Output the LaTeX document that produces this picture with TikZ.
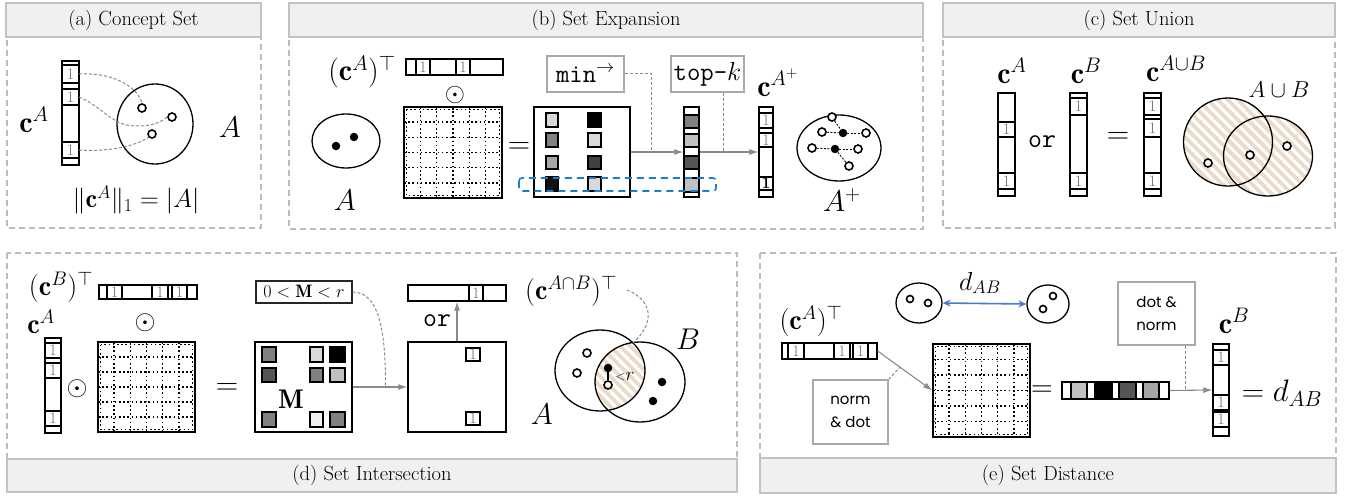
\RequirePackage{fix-cm}
\documentclass[tikz,border=0pt]{standalone}
\usepackage{amsmath,amssymb}
\usepackage{fontspec}
\newfontfamily\gothic{Poppins}
\usetikzlibrary{arrows.meta,calc,shapes.geometric,fit}
\definecolor{tbfill}{HTML}{F0F0F0}
\definecolor{tbdraw}{HTML}{C2C2C2}
\definecolor{pdash}{HTML}{BDBDBD}
\definecolor{stripe}{HTML}{EBDACA}
\definecolor{onegrey}{HTML}{6E6E6E}
\definecolor{arrgrey}{HTML}{8A8A8A}
\definecolor{boxgrey}{HTML}{A8A8A8}
\definecolor{blueA}{HTML}{1F7BD0}
\definecolor{blueB}{HTML}{4A7CC8}
\definecolor{gA}{HTML}{D9D9D9}
\definecolor{gB}{HTML}{808080}
\definecolor{gC}{HTML}{A6A6A6}
\definecolor{gD}{HTML}{111111}
\definecolor{gE}{HTML}{404040}
\definecolor{gF}{HTML}{C0C0C0}
\definecolor{gG}{HTML}{555555}
\definecolor{gH}{HTML}{F2F2F2}
\newcommand\vcell[4]{\draw[cellbx] (#1,#2) rectangle (#3,#4); \node[onetx] at ($(#1,#2)!0.5!(#3,#4)$) {1};}
\newcommand\dgridm[4]{%
  \foreach \i in {1,...,5}{%
    \draw[dgrid] ($(#1,#2)!\i/6!(#3,#2)$) -- ($(#1,#4)!\i/6!(#3,#4)$);
    \draw[dgrid] ($(#1,#2)!\i/6!(#1,#4)$) -- ($(#3,#2)!\i/6!(#3,#4)$);}
  \draw[dgrid] ({#1+2.5},{#2+2.5}) rectangle ({#3-2.5},{#4-2.5});}
\newcommand\myhatch[2]{\foreach \k in {-16,...,16}{\draw[stripe, line width=3.6] ({#1+\k*10-80},{#2-80}) -- ++(160,160);}}
\begin{document}
\begin{tikzpicture}[x=1pt,y=-1pt,
  pnl/.style={draw=pdash, line width=1.3, dash pattern=on 6pt off 4pt},
  ttlbox/.style={draw=tbdraw, fill=tbfill, line width=1.6, inner sep=0, font=\fontsize{20.5}{23}\selectfont},
  lbl/.style={inner sep=0, font=\fontsize{30}{34}\selectfont},
  lbs/.style={inner sep=0, font=\fontsize{28}{32}\selectfont},
  vecbx/.style={draw, line width=1.3, inner sep=0},
  cellbx/.style={draw, line width=1.3},
  onetx/.style={inner sep=0, text=onegrey, font=\fontsize{16}{16}\selectfont},
  matbx/.style={draw, line width=1.4, inner sep=0},
  dgrid/.style={line width=1.6, dash pattern=on 1.6pt off 2.6pt},
  gsq/.style={draw, line width=1.2},
  garr/.style={draw=arrgrey, line width=1.1, -{Latex[length=9pt,width=6pt]}},
  gdsh/.style={draw=arrgrey, line width=1, dash pattern=on 3pt off 2pt},
  opbx/.style={draw=boxgrey, line width=1.2, inner sep=0},
  odt/.style={circle, draw, line width=1.6, fill=white, inner sep=0, minimum size=8},
  fdt/.style={circle, fill, inner sep=0, minimum size=8.5},
  setl/.style={ellipse, draw, line width=1.3, inner sep=0},
  ttx/.style={inner sep=0, font=\fontsize{27}{29}\selectfont\ttfamily},
  edsh/.style={line width=0.9, dash pattern=on 2pt off 1.5pt},
  sanstx/.style={inner sep=0, align=left, font=\fontsize{15}{23}\selectfont\gothic}
]
\useasboundingbox (0,0) rectangle (1347,500);
\fill[white] (0,0) rectangle (1347,500);

%%%%%%%%%%%%%%%% (a)
\draw[pnl] (7,30) rectangle (261,228);
\node[ttlbox, minimum width=255, minimum height=34] (ta) at (133.5,20) {(a) Concept Set};
\node[vecbx, fit={(62,61) (79,165)}] (vA) {};
\vcell{62}{65}{79}{83}
\vcell{62}{89}{79}{105}
\vcell{62}{142}{79}{158}
\node[setl, minimum width=76, minimum height=80] (sA) at (155,124) {};
\node[odt] (a1) at (142,108) {};
\node[odt] (a2) at (172,117) {};
\node[odt] (a3) at (152,134) {};
\coordinate (a1s) at (79,74);
\coordinate (a2s) at (79,97);
\coordinate (a3s) at (79,150);
\draw[gdsh] (a1s) .. controls (115,72) and (138,88) .. (a1.north);
\draw[gdsh] (a2s) .. controls (105,108) and (112,127) .. (138,126) .. controls (155,126) and (162,121) .. (a2.west);
\draw[gdsh] (a3s) .. controls (110,152) and (135,146) .. (a3.south west);
\node[lbl] (lcA) at (34,120) {$\mathbf{c}^{A}$};
\node[lbl] (lA) at (230,127) {$A$};
\node[lbl, font=\fontsize{26}{30}\selectfont] (eqa) at (136,200) {$\|\mathbf{c}^A\|_1=|A|$};

%%%%%%%%%%%%%%%% (b)
\draw[pnl] (289,30) rectangle (923,229);
\node[ttlbox, minimum width=634, minimum height=34] (tb) at (606,20) {(b) Set Expansion};
\node[lbl] (lbT) at (362,72) {$(\mathbf{c}^{A})^{\top}$};
\node[vecbx, fit={(406,59) (503,75)}] (rbv) {};
\vcell{416}{59}{430}{75}
\vcell{456}{59}{470}{75}
\node[lbl, font=\fontsize{26}{28}\selectfont] (bo) at (455,95) {$\odot$};
\dgridm{404}{107}{502}{198}
\node[matbx, fit={(404,107) (502,198)}] (bm) {};
\node[setl, minimum width=68, minimum height=54] (sbA) at (346,141) {};
\node[fdt] (b1) at (336,146) {};
\node[fdt] (b2) at (354,137) {};
\node[lbl] (lbA) at (345,200) {$A$};
\node[lbl, font=\fontsize{31}{34}\selectfont] (beq) at (519,148) {$=$};
\node[matbx, fit={(534,107) (630,197)}] (rm) {};
\filldraw[gsq, fill=gA] (546,113) rectangle (558,127);
\filldraw[gsq, fill=gB] (546,133) rectangle (558,147);
\filldraw[gsq, fill=gC] (546,156) rectangle (558,169);
\filldraw[gsq, fill=gD] (546,177) rectangle (558,191);
\filldraw[gsq, fill=black] (588,113) rectangle (601,127);
\filldraw[gsq, fill=gA] (588,133) rectangle (601,147);
\filldraw[gsq, fill=gE] (588,156) rectangle (601,169);
\filldraw[gsq, fill=gA] (588,177) rectangle (601,191);
\node[opbx, minimum width=77, minimum height=36, font=\fontsize{26}{28}\selectfont] (minb) at (585.5,74) {\texttt{min}$^{\rightarrow}$};
\node[opbx, minimum width=73, minimum height=36, font=\fontsize{26}{28}\selectfont] (topk) at (707.5,74) {\texttt{top-}$k$};
\node[vecbx, fit={(684,107) (699,197)}] (cv) {};
\filldraw[gsq, fill=gB] (684,115) rectangle (699,128);
\filldraw[gsq, fill=gF] (684,134) rectangle (699,147);
\filldraw[gsq, fill=gG] (684,156) rectangle (699,169);
\filldraw[gsq, fill=gF] (684,178) rectangle (699,192);
\node[vecbx, fit={(759,107) (773,197)}] (vap) {};
\vcell{759}{113}{773}{128}
\vcell{759}{133}{773}{147}
\draw[cellbx, line width=1.7] (759,177) rectangle (773,190);
\node[inner sep=0, font=\fontsize{16}{16}\selectfont\bfseries] at (766,183.5) {1};
\node[lbl] (lcAp) at (778,83) {$\mathbf{c}^{A^{+}}$};
\coordinate (mk) at ($(rm.east)!0.4!(cv.west)$);
\coordinate (tk) at ($(cv.east)!0.4!(vap.west)$);
\draw[garr] (rm.east) -- (cv.west);
\draw[garr] (cv.east) -- (vap.west);
\draw[gdsh] (minb.east) -| (mk);
\draw[gdsh] (tk |- topk.south) -- (tk);
\node[setl, minimum width=84, minimum height=66] (sAp) at (839,148) {};
\node[fdt] (p1) at (843,133) {};
\node[fdt] (p2) at (835,149) {};
\node[odt] (q1) at (832,117) {};
\node[odt] (q2) at (822,132) {};
\node[odt] (q3) at (866,133) {};
\node[odt] (q4) at (812,148) {};
\node[odt] (q5) at (858,149) {};
\node[odt] (q6) at (849,166) {};
\draw[edsh] (q1) -- (p1); \draw[edsh] (q2) -- (p1); \draw[edsh] (p1) -- (q3);
\draw[edsh] (q4) -- (p2); \draw[edsh] (p2) -- (q5); \draw[edsh] (p2) -- (q6);
\node[lbl] (lAp) at (842,200) {$A^{+}$};
\draw[draw=blueA, line width=1.6, dash pattern=on 7pt off 5pt, rounded corners=3] (519,178) rectangle (716,191);

%%%%%%%%%%%%%%%% (c)
\draw[pnl] (943,30) rectangle (1335,228);
\node[ttlbox, minimum width=392, minimum height=34] (tc) at (1139,20) {(c) Set Union};
\node[vecbx, fit={(998,93) (1015,196)}] (cvA) {};
\vcell{998}{122}{1015}{137}
\vcell{998}{173}{1015}{189}
\node[vecbx, fit={(1070,93) (1087,196)}] (cvB) {};
\vcell{1070}{98}{1087}{115}
\vcell{1070}{173}{1087}{189}
\node[vecbx, fit={(1144,93) (1161,196)}] (cvU) {};
\vcell{1144}{98}{1161}{115}
\vcell{1144}{119}{1161}{137}
\vcell{1144}{173}{1161}{189}
\node[lbl] (lcA2) at (1012,71) {$\mathbf{c}^{A}$};
\node[lbl] (lcB2) at (1086,71) {$\mathbf{c}^{B}$};
\node[lbl] (lcU) at (1176,69) {$\mathbf{c}^{A\cup B}$};
\node[ttx] (cor) at (1042,142) {or};
\node[lbl, font=\fontsize{31}{34}\selectfont] (ceq) at (1118,138) {$=$};
\begin{scope}\clip (1228,142) ellipse [x radius=44.5pt, y radius=44pt]; \myhatch{1248}{150}\end{scope}
\begin{scope}\clip (1268,156) ellipse [x radius=44.5pt, y radius=40pt]; \myhatch{1248}{150}\end{scope}
\node[setl, minimum width=89, minimum height=88] (cA) at (1228,142) {};
\node[setl, minimum width=89, minimum height=80] (cB) at (1268,156) {};
\node[odt] (c1) at (1208,163) {};
\node[odt] (c2) at (1250,155) {};
\node[odt] (c3) at (1287,146) {};
\node[lbl, font=\fontsize{23}{26}\selectfont] (lU) at (1279,90) {$A\cup B$};

%%%%%%%%%%%%%%%% (d)
\draw[pnl] (7,253) rectangle (737,470);
\node[ttlbox, minimum width=730, minimum height=33] (td) at (372,475.5) {(d) Set Intersection};
\node[lbs] (ldT) at (61,287) {$(\mathbf{c}^{B})^{\top}$};
\node[vecbx, fit={(99,285) (197,299)}] (drb) {};
\vcell{107}{285}{122}{299}
\vcell{152}{285}{168}{299}
\vcell{172}{285}{187}{299}
\node[lbs] (ldA) at (41,322) {$\mathbf{c}^{A}$};
\node[vecbx, fit={(45,338) (61,433)}] (dca) {};
\vcell{45}{343}{61}{358}
\vcell{45}{363}{61}{378}
\vcell{45}{411}{61}{426}
\node[lbl, font=\fontsize{27}{30}\selectfont] (do1) at (77,389) {$\odot$};
\node[lbl, font=\fontsize{27}{30}\selectfont] (do2) at (145,323) {$\odot$};
\dgridm{98}{342}{195}{432}
\node[matbx, fit={(98,342) (195,432)}] (dm) {};
\node[lbl, font=\fontsize{31}{34}\selectfont] (deq) at (227,389) {$=$};
\node[matbx, fit={(255,342) (352,432)}] (Mm) {};
\filldraw[gsq, fill=gB] (262,347) rectangle (276,362);
\filldraw[gsq, fill=gA] (310,347) rectangle (323,362);
\filldraw[gsq, fill=black] (330,347) rectangle (345,362);
\filldraw[gsq, fill=gG] (262,368) rectangle (276,382);
\filldraw[gsq, fill=gB] (310,368) rectangle (323,382);
\filldraw[gsq, fill=gF] (330,368) rectangle (345,382);
\filldraw[gsq, fill=gB] (262,412) rectangle (276,427);
\filldraw[gsq, fill=gH] (310,412) rectangle (323,427);
\filldraw[gsq, fill=gB] (330,412) rectangle (345,427);
\node[lbl, font=\fontsize{27}{30}\selectfont] (lM) at (291,399) {$\mathbf{M}$};
\node[draw=black!85, line width=1.1, inner sep=0, minimum width=96, minimum height=22, font=\fontsize{18}{20}\selectfont] (thr) at (304,292) {$0<\mathbf{M}<r$};
\node[matbx, fit={(408,342) (506,432)}] (rbox) {};
\vcell{466}{348}{480}{361}
\vcell{466}{412}{480}{425}
\node[vecbx, fit={(408,285) (506,301)}] (rrow) {};
\vcell{469}{285}{483}{301}
\coordinate (thk) at ($(Mm.east)!0.6!(rbox.west)$);
\draw[garr] (Mm.east) -- (rbox.west);
\draw[gdsh] (thr.east) .. controls (376,292) and (386,322) .. (thk);
\draw[garr] (rbox.north) -- (rrow.south);
\node[ttx] (dor) at (437,321) {or};
\node[lbs] (lint) at (571,291) {$(\mathbf{c}^{A\cap B})^{\top}$};
\begin{scope}\clip (600,370.5) ellipse [x radius=45pt, y radius=40.5pt]; \clip (640,382) ellipse [x radius=45pt, y radius=40pt]; \myhatch{620}{376}\end{scope}
\node[setl, minimum width=90, minimum height=81] (dA) at (600,370.5) {};
\node[setl, minimum width=90, minimum height=80] (dB) at (640,382) {};
\coordinate (ints) at (627,290);
\coordinate (inte) at (633,343);
\draw[gdsh] (ints) .. controls (652,300) and (656,322) .. (inte);
\node[odt] (e1) at (587,353) {};
\node[odt] (e2) at (577,373) {};
\node[fdt] (e3) at (608,368) {};
\node[odt] (e4) at (608,385) {};
\draw[line width=1.5] (e3) -- (e4);
\node[inner sep=0, font=\fontsize{19}{20}\selectfont] (lr) at (625,377) {${\scriptstyle<}r$};
\node[fdt] (e5) at (662,382) {};
\node[fdt] (e6) at (653,401) {};
\node[lbl] (ldA2) at (542,414) {$A$};
\node[lbl] (ldB2) at (688,339) {$B$};

%%%%%%%%%%%%%%%% (e)
\draw[pnl] (760,253) rectangle (1336,470);
\node[ttlbox, minimum width=576, minimum height=35] (te) at (1048,475.5) {(e) Set Distance};
\node[lbs] (leT) at (811,321) {$(\mathbf{c}^{A})^{\top}$};
\node[vecbx, fit={(782,343) (877,359)}] (ra) {};
\vcell{788}{343}{804}{359}
\vcell{834}{343}{850}{359}
\vcell{853}{343}{868}{359}
\node[opbx, minimum width=75, minimum height=64] (nd) at (850.5,412) {};
\node[sanstx] at (nd) {norm\\\& dot};
\dgridm{933}{344}{1030}{437}
\node[matbx, fit={(933,344) (1030,437)}] (em) {};
\coordinate (ndk) at ($(ra.east)!0.41!(em.west)$);
\draw[garr] (ra.east) -- (em.west);
\draw[gdsh] (nd.north east) -- (ndk);
\node[lbl, font=\fontsize{30}{33}\selectfont] (eeq) at (1042,391) {$=$};
\node[vecbx, fit={(1062,382) (1169,399)}] (bar) {};
\filldraw[gsq, fill=gF] (1071,382) rectangle (1087,399);
\filldraw[gsq, fill=black] (1095,382) rectangle (1112,399);
\filldraw[gsq, fill=gG] (1119,382) rectangle (1136,399);
\filldraw[gsq, fill=gC] (1143,382) rectangle (1159,399);
\node[opbx, minimum width=77, minimum height=63] (dn) at (1156.5,313.5) {};
\node[sanstx] at (dn) {dot \&\\norm};
\node[vecbx, fit={(1213,344) (1229,436)}] (cbv) {};
\vcell{1213}{350}{1229}{365}
\vcell{1213}{395}{1229}{410}
\vcell{1213}{412}{1229}{427}
\coordinate (dnk) at ($(bar.east)!0.36!(cbv.west)$);
\draw[garr] (bar.east) -- (cbv.west);
\draw[gdsh] (dnk |- dn.south) -- (dnk);
\node[lbl] (lcB3) at (1234,321) {$\mathbf{c}^{B}$};
\node[lbl, font=\fontsize{31}{34}\selectfont] (eres) at (1282,393) {$=d_{AB}$};
\node[setl, minimum width=46, minimum height=40] (cl) at (919,303) {};
\node[odt, minimum size=7] (f1) at (910,299) {};
\node[odt, minimum size=7] (f2) at (928,303) {};
\node[setl, minimum width=42, minimum height=38] (cr) at (1048,304) {};
\node[odt, minimum size=7] (f3) at (1053,296) {};
\node[odt, minimum size=7] (f4) at (1043,309) {};
\draw[draw=blueB, line width=1.6, {Stealth[length=8pt,width=7pt]}-{Stealth[length=8pt,width=7pt]}] (cl.east) -- (cr.west);
\node[lbl, font=\fontsize{26}{29}\selectfont] (ldab) at (980,283) {$d_{AB}$};
\end{tikzpicture}
\end{document}
